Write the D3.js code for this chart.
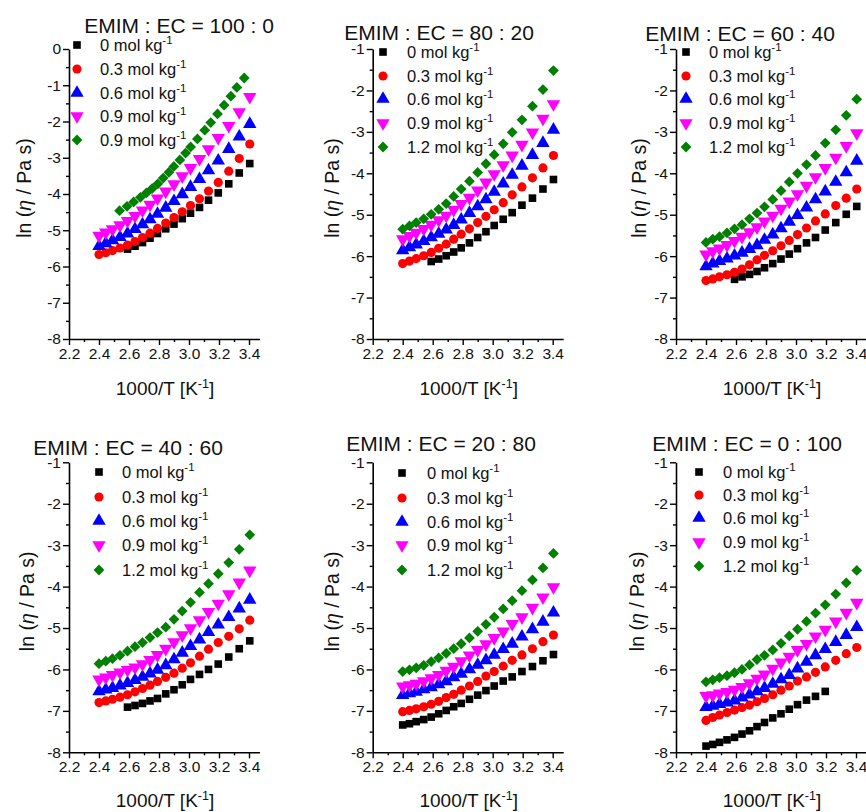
<!DOCTYPE html>
<html><head><meta charset="utf-8">
<script src="https://cdn.jsdelivr.net/npm/d3@7"></script>
<style>
body{margin:0;background:#fff;}
svg{display:block;font-family:"Liberation Sans",Arial,Helvetica,sans-serif;}
</style>
</head><body>
<svg id="chart" width="866" height="812"></svg>
<script>
// ---------- data ----------
// common 1000/T values (K^-1)
const xT = [2.40, 2.445, 2.49, 2.54, 2.59, 2.64, 2.69, 2.74, 2.79, 2.845, 2.90, 2.955, 3.01, 3.07, 3.13, 3.195, 3.265, 3.335, 3.405];

const titles = ["EMIM : EC = 100 : 0", "EMIM : EC = 80 : 20", "EMIM : EC = 60 : 40",
                "EMIM : EC = 40 : 60", "EMIM : EC = 20 : 80", "EMIM : EC = 0 : 100"];
const legendLabels = ["0", "0.3", "0.6", "0.9", "1.2"];
const legendLabelsFirst = ["0", "0.3", "0.6", "0.9", "0.9"];
const seriesColors = ["#000000", "#ff0000", "#0000ff", "#ff00ff", "#008000"];
const xTicksMajor = [2.2, 2.4, 2.6, 2.8, 3.0, 3.2, 3.4];
const xTicksMinor = [2.3, 2.5, 2.7, 2.9, 3.1, 3.3];
const yTicksFirst = [0, -1, -2, -3, -4, -5, -6, -7, -8];
const yTicksOther = [-1, -2, -3, -4, -5, -6, -7, -8];

// EMIM : EC = 100 : 0  (ln(eta / Pa s)); rows = 0, 0.3, 0.6, 0.9 mol/kg on xT
const ec100_0 = [
  [null, null, null, null, -5.52, -5.44, -5.34, -5.22, -5.09, -4.96, -4.83, -4.68, -4.53, -4.37, -4.17, -3.97, -3.72, -3.42, -3.16],
  [-5.67, -5.62, -5.56, -5.49, -5.41, -5.31, -5.20, -5.08, -4.95, -4.80, -4.65, -4.49, -4.32, -4.13, -3.92, -3.68, -3.37, -3.02, -2.62],
  [-5.44, -5.36, -5.28, -5.19, -5.09, -4.97, -4.84, -4.70, -4.55, -4.38, -4.20, -4.01, -3.81, -3.59, -3.35, -3.08, -2.76, -2.42, -2.07],
  [-5.15, -5.06, -4.97, -4.86, -4.74, -4.60, -4.45, -4.29, -4.12, -3.93, -3.73, -3.51, -3.28, -3.03, -2.76, -2.45, -2.12, -1.74, -1.32]
];
// last series of the first panel was measured on its own temperature grid
const ec100_0_greenX = [2.537, 2.587, 2.631, 2.676, 2.716, 2.754, 2.792, 2.828, 2.866, 2.899, 2.939, 2.977, 3.011, 3.056, 3.105, 3.145, 3.190, 3.234, 3.279, 3.319, 3.368];
const ec100_0_greenY = [-4.46, -4.34, -4.22, -4.09, -3.97, -3.85, -3.72, -3.56, -3.40, -3.24, -3.06, -2.87, -2.70, -2.48, -2.24, -2.03, -1.79, -1.55, -1.30, -1.06, -0.80];

const ec80_20 = [
  [null, null, null, null, -6.13, -6.07, -5.99, -5.90, -5.80, -5.68, -5.55, -5.41, -5.26, -5.11, -4.95, -4.77, -4.60, -4.38, -4.15],
  [-6.18, -6.12, -6.06, -5.99, -5.91, -5.81, -5.71, -5.59, -5.47, -5.34, -5.19, -5.04, -4.88, -4.71, -4.52, -4.33, -4.11, -3.87, -3.57],
  [-5.86, -5.79, -5.72, -5.64, -5.55, -5.46, -5.36, -5.25, -5.12, -4.96, -4.80, -4.63, -4.45, -4.25, -4.04, -3.82, -3.56, -3.27, -2.95],
  [-5.59, -5.51, -5.43, -5.34, -5.24, -5.13, -5.02, -4.88, -4.74, -4.59, -4.41, -4.22, -4.02, -3.80, -3.57, -3.31, -3.01, -2.68, -2.33],
  [-5.35, -5.27, -5.19, -5.10, -4.99, -4.87, -4.73, -4.56, -4.38, -4.19, -3.98, -3.77, -3.55, -3.29, -3.01, -2.71, -2.38, -1.98, -1.52]
];

const ec60_40 = [
  [null, null, null, null, -6.56, -6.50, -6.44, -6.37, -6.28, -6.18, -6.07, -5.95, -5.82, -5.68, -5.55, -5.37, -5.19, -4.99, -4.80],
  [-6.59, -6.55, -6.50, -6.45, -6.39, -6.31, -6.21, -6.09, -5.98, -5.87, -5.75, -5.62, -5.48, -5.32, -5.15, -4.98, -4.78, -4.60, -4.38],
  [-6.25, -6.18, -6.12, -6.06, -5.99, -5.92, -5.83, -5.74, -5.61, -5.48, -5.33, -5.17, -5.01, -4.83, -4.63, -4.44, -4.21, -3.98, -3.70],
  [-5.96, -5.88, -5.81, -5.73, -5.63, -5.53, -5.42, -5.30, -5.16, -5.02, -4.85, -4.68, -4.50, -4.30, -4.09, -3.87, -3.62, -3.34, -3.03],
  [-5.67, -5.59, -5.53, -5.44, -5.34, -5.24, -5.10, -4.96, -4.81, -4.63, -4.42, -4.21, -4.00, -3.79, -3.57, -3.27, -2.95, -2.60, -2.21]
];

const ec40_60 = [
  [null, null, null, null, -6.91, -6.87, -6.82, -6.76, -6.70, -6.59, -6.49, -6.37, -6.24, -6.12, -6.00, -5.87, -5.70, -5.50, -5.31],
  [-6.80, -6.76, -6.72, -6.67, -6.61, -6.54, -6.46, -6.38, -6.29, -6.19, -6.09, -5.97, -5.84, -5.68, -5.51, -5.35, -5.20, -5.02, -4.81],
  [-6.53, -6.49, -6.45, -6.39, -6.33, -6.26, -6.18, -6.10, -6.01, -5.90, -5.76, -5.60, -5.44, -5.28, -5.10, -4.92, -4.74, -4.53, -4.32],
  [-6.24, -6.19, -6.13, -6.07, -6.01, -5.95, -5.87, -5.77, -5.65, -5.50, -5.34, -5.17, -5.00, -4.81, -4.61, -4.41, -4.18, -3.90, -3.61],
  [-5.86, -5.80, -5.74, -5.66, -5.56, -5.45, -5.35, -5.23, -5.11, -4.98, -4.79, -4.59, -4.38, -4.14, -3.93, -3.69, -3.42, -3.10, -2.75]
];

const ec20_80 = [
  [-7.34, -7.31, -7.26, -7.21, -7.15, -7.07, -6.99, -6.90, -6.82, -6.72, -6.62, -6.51, -6.40, -6.28, -6.18, -6.05, -5.93, -5.79, -5.64],
  [-7.02, -6.99, -6.95, -6.90, -6.84, -6.77, -6.68, -6.60, -6.50, -6.40, -6.29, -6.16, -6.05, -5.92, -5.78, -5.65, -5.50, -5.33, -5.17],
  [-6.62, -6.58, -6.54, -6.48, -6.43, -6.36, -6.29, -6.19, -6.11, -6.00, -5.89, -5.78, -5.65, -5.51, -5.38, -5.21, -5.03, -4.85, -4.63],
  [-6.41, -6.38, -6.34, -6.28, -6.21, -6.13, -6.03, -5.93, -5.80, -5.66, -5.53, -5.39, -5.24, -5.08, -4.90, -4.74, -4.51, -4.26, -4.01],
  [-6.05, -6.01, -5.96, -5.90, -5.81, -5.72, -5.61, -5.50, -5.38, -5.24, -5.08, -4.91, -4.74, -4.54, -4.34, -4.10, -3.84, -3.55, -3.20]
];

const ec0_100 = [
  [-7.85, -7.81, -7.76, -7.70, -7.64, -7.56, -7.48, -7.38, -7.28, -7.17, -7.07, -6.96, -6.85, -6.74, -6.65, -6.53, null, null, null],
  [-7.23, -7.16, -7.10, -7.04, -6.98, -6.92, -6.86, -6.78, -6.70, -6.61, -6.50, -6.40, -6.28, -6.18, -6.07, -5.94, -5.78, -5.62, -5.47],
  [-6.91, -6.88, -6.84, -6.80, -6.75, -6.68, -6.61, -6.53, -6.45, -6.35, -6.24, -6.14, -5.98, -5.82, -5.66, -5.51, -5.34, -5.17, -4.98],
  [-6.64, -6.62, -6.58, -6.54, -6.49, -6.42, -6.33, -6.22, -6.12, -5.98, -5.83, -5.69, -5.53, -5.38, -5.20, -5.04, -4.84, -4.63, -4.39],
  [-6.30, -6.25, -6.20, -6.15, -6.08, -6.00, -5.89, -5.76, -5.66, -5.53, -5.37, -5.19, -5.03, -4.84, -4.64, -4.44, -4.18, -3.91, -3.61]
];

// ---------- layout ----------
const panelData = [ec100_0, ec80_20, ec60_40, ec40_60, ec20_80, ec0_100];
const layout = [
  {x0: 69,    top: 49,    bot: 339,   yMax: 0,  tx: 179, ty: 25,  legX: 77,  legTX: 100, legY: [45, 69, 93, 116, 140], yTitleOff: 45},
  {x0: 372.7, top: 49,    bot: 339,   yMax: -1, tx: 439, ty: 32,  legX: 383, legTX: 407, legY: [52, 76, 99, 123, 147], yTitleOff: 41},
  {x0: 676,   top: 49,    bot: 339,   yMax: -1, tx: 740, ty: 33,  legX: 686, legTX: 709, legY: [52, 76, 99, 123, 147], yTitleOff: 37},
  {x0: 69,    top: 462.3, bot: 752.3, yMax: -1, tx: 128, ty: 447, legX: 99,  legTX: 122, legY: [472, 497, 521, 545, 570], yTitleOff: 42},
  {x0: 372.7, top: 462.3, bot: 752.3, yMax: -1, tx: 441, ty: 443, legX: 402, legTX: 427, legY: [473, 498, 522, 545, 570], yTitleOff: 41},
  {x0: 676,   top: 462.3, bot: 752.3, yMax: -1, tx: 747, ty: 443, legX: 699, legTX: 723, legY: [472, 495, 518, 542, 566], yTitleOff: 39}
];

const svg = d3.select("#chart");

const symSquare = d3.symbol().type(d3.symbolSquare).size(58);
const symCircle = d3.symbol().type(d3.symbolCircle).size(66);
const symTri = d3.symbol().type(d3.symbolTriangle).size(78);
const symDiamond = d3.symbol().type(d3.symbolSquare).size(58);
const symbolDefs = [
  {p: symSquare(), rot: 0},
  {p: symCircle(), rot: 0},
  {p: symTri(), rot: 0},
  {p: symTri(), rot: 180},
  {p: symDiamond(), rot: 45}
];

function drawMarker(g, i, cx, cy) {
  g.append("path")
    .attr("d", symbolDefs[i].p)
    .attr("transform", `translate(${cx},${cy}) rotate(${symbolDefs[i].rot})`)
    .attr("fill", seriesColors[i]);
}

layout.forEach((L, k) => {
  const g = svg.append("g");
  const x = d3.scaleLinear().domain([2.2, 3.47]).range([L.x0, L.x0 + 1.27 * 150]);
  const y = d3.scaleLinear().domain([-8, L.yMax]).range([L.bot, L.top]);
  const yMajor = k === 0 ? yTicksFirst : yTicksOther;
  const yMinor = yMajor.slice(0, -1).map(v => v - 0.5);

  // x axis
  g.append("g").attr("transform", `translate(0,${L.bot})`)
    .call(d3.axisBottom(x).tickValues(xTicksMajor).tickFormat(d => d.toFixed(1))
      .tickSizeInner(6).tickSizeOuter(0).tickPadding(3));
  const xm = g.append("g").attr("transform", `translate(0,${L.bot})`)
    .call(d3.axisBottom(x).tickValues(xTicksMinor).tickFormat("").tickSizeInner(3).tickSizeOuter(0));
  xm.select(".domain").remove();
  // y axis
  g.append("g").attr("transform", `translate(${L.x0},0)`)
    .call(d3.axisLeft(y).tickValues(yMajor).tickFormat(d => String(d))
      .tickSizeInner(6).tickSizeOuter(0).tickPadding(2));
  const ym = g.append("g").attr("transform", `translate(${L.x0},0)`)
    .call(d3.axisLeft(y).tickValues(yMinor).tickFormat("").tickSizeInner(3).tickSizeOuter(0));
  ym.select(".domain").remove();

  g.selectAll(".domain").attr("stroke", "#000").attr("stroke-width", 1.6);
  g.selectAll(".tick line").attr("stroke", "#000").attr("stroke-width", 1.4);
  g.selectAll(".tick text").attr("font-size", 15.5).attr("fill", "#111")
    .attr("font-family", '"Liberation Sans", Arial, sans-serif');

  // title
  g.append("text").attr("x", L.tx).attr("y", L.ty + 7.5).attr("text-anchor", "middle")
    .attr("font-size", 21).attr("fill", "#111").text(titles[k]);

  // x axis title
  const xtitle = g.append("text").attr("x", L.x0 + 96).attr("y", (k < 3 ? 388 : 800) + 7)
    .attr("text-anchor", "middle").attr("font-size", 19).attr("fill", "#111");
  xtitle.append("tspan").text("1000/T [K");
  xtitle.append("tspan").attr("dy", -7.5).attr("font-size", 12.5).text("-1");
  xtitle.append("tspan").attr("dy", 7.5).text("]");

  // y axis title
  const ycx = L.x0 - L.yTitleOff, ycy = (L.top + L.bot) / 2 - 6;
  const ytitle = g.append("text").attr("transform", `translate(${ycx},${ycy}) rotate(-90)`)
    .attr("text-anchor", "middle").attr("dy", "0.35em").attr("font-size", 19.5).attr("fill", "#111");
  ytitle.append("tspan").text("ln (");
  ytitle.append("tspan").attr("font-style", "italic").text("η");
  ytitle.append("tspan").text(" / Pa s)");

  // data
  const data = panelData[k];
  data.forEach((row, i) => {
    const pts = row.map((v, j) => ({x: xT[j], y: v})).filter(p => p.y !== null);
    pts.forEach(p => drawMarker(g, i, x(p.x), y(p.y)));
  });
  if (k === 0) {
    ec100_0_greenX.forEach((xv, j) => drawMarker(g, 4, x(xv), y(ec100_0_greenY[j])));
  }

  // legend
  const labels = k === 0 ? legendLabelsFirst : legendLabels;
  labels.forEach((lab, i) => {
    drawMarker(g, i, L.legX, L.legY[i]);
    const t = g.append("text").attr("x", L.legTX).attr("y", L.legY[i] + 5.8)
      .attr("font-size", 16.5).attr("fill", "#111");
    t.append("tspan").text(lab + " mol kg");
    t.append("tspan").attr("dy", -6.5).attr("font-size", 11.5).text("-1");
  });
});
</script>
</body></html>
